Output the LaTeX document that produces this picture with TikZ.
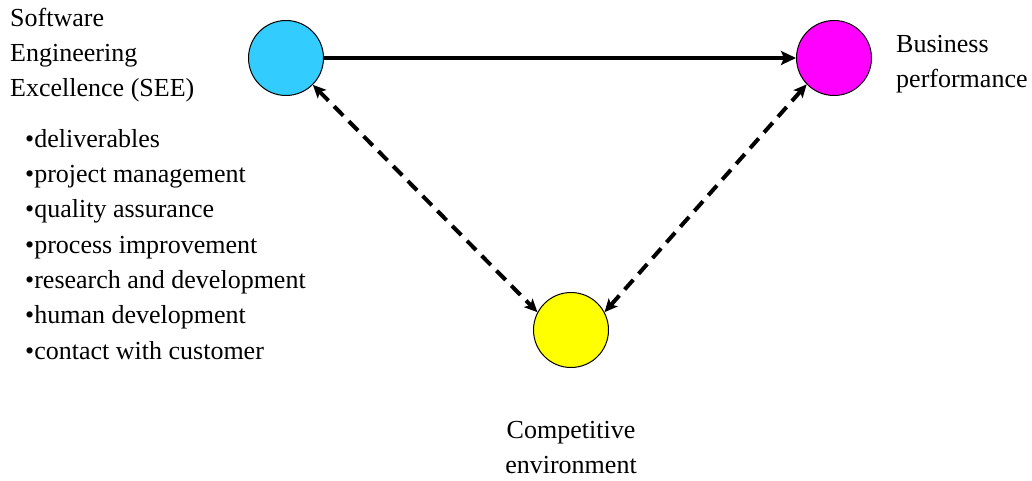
\documentclass[tikz,border=0pt]{standalone}
\usepackage{fontspec}
\setmainfont{Liberation Serif}
\usetikzlibrary{arrows.meta,positioning}

\definecolor{seeblue}{HTML}{33CCFF}
\definecolor{bpmagenta}{HTML}{FF00FF}
\definecolor{ceyellow}{HTML}{FFFF00}

\tikzset{
	factor/.style = {circle, draw, line width=1pt, minimum size=75pt, inner sep=0pt},
	lbl/.style = {font=\fontsize{26}{35.3}\selectfont, align=left, inner sep=0pt},
	bigtip/.tip = {Stealth[length=15pt, width=14pt, inset=3pt]},
	smalltip/.tip = {Stealth[length=13pt, width=12pt, inset=3pt]}
}

\begin{document}
\begin{tikzpicture}[x=1pt, y=1pt, node distance=1cm]
	\useasboundingbox (0,0) rectangle (1032,480);

	\node 	(SEE) 	[factor, fill=seeblue] 		at (286,422)	{};
	\node 	(BP) 	[factor, fill=bpmagenta] 	at (834,422)	{};
	\node 	(CE) 	[factor, fill=ceyellow] 	at (571,150)	{};

	\node	(SEElab)	[lbl, anchor=base west]	at (10,383)
		{Software\\Engineering\\Excellence (SEE)};
	\node	(tasks)		[lbl, anchor=base west]	at (25,121)
		{\textbullet deliverables\\
		 \textbullet project management\\
		 \textbullet quality assurance\\
		 \textbullet process improvement\\
		 \textbullet research and development\\
		 \textbullet human development\\
		 \textbullet contact with customer};
	\node	(BPlab)		[lbl, anchor=base west]	at (896,392)
		{Business\\performance};
	\node	(CElab)		[lbl, align=center, below=53pt of CE]
		{Competitive\\environment};

	\path [-bigtip, line width=4pt]
	(SEE)		edge 	(BP)
	;
	\path [smalltip-smalltip, line width=4pt, dash pattern=on 13pt off 8pt]
	(SEE.-45)	edge	(CE.152)
	(BP.-136)	edge	(CE.28)
	;

\end{tikzpicture}
\end{document}
